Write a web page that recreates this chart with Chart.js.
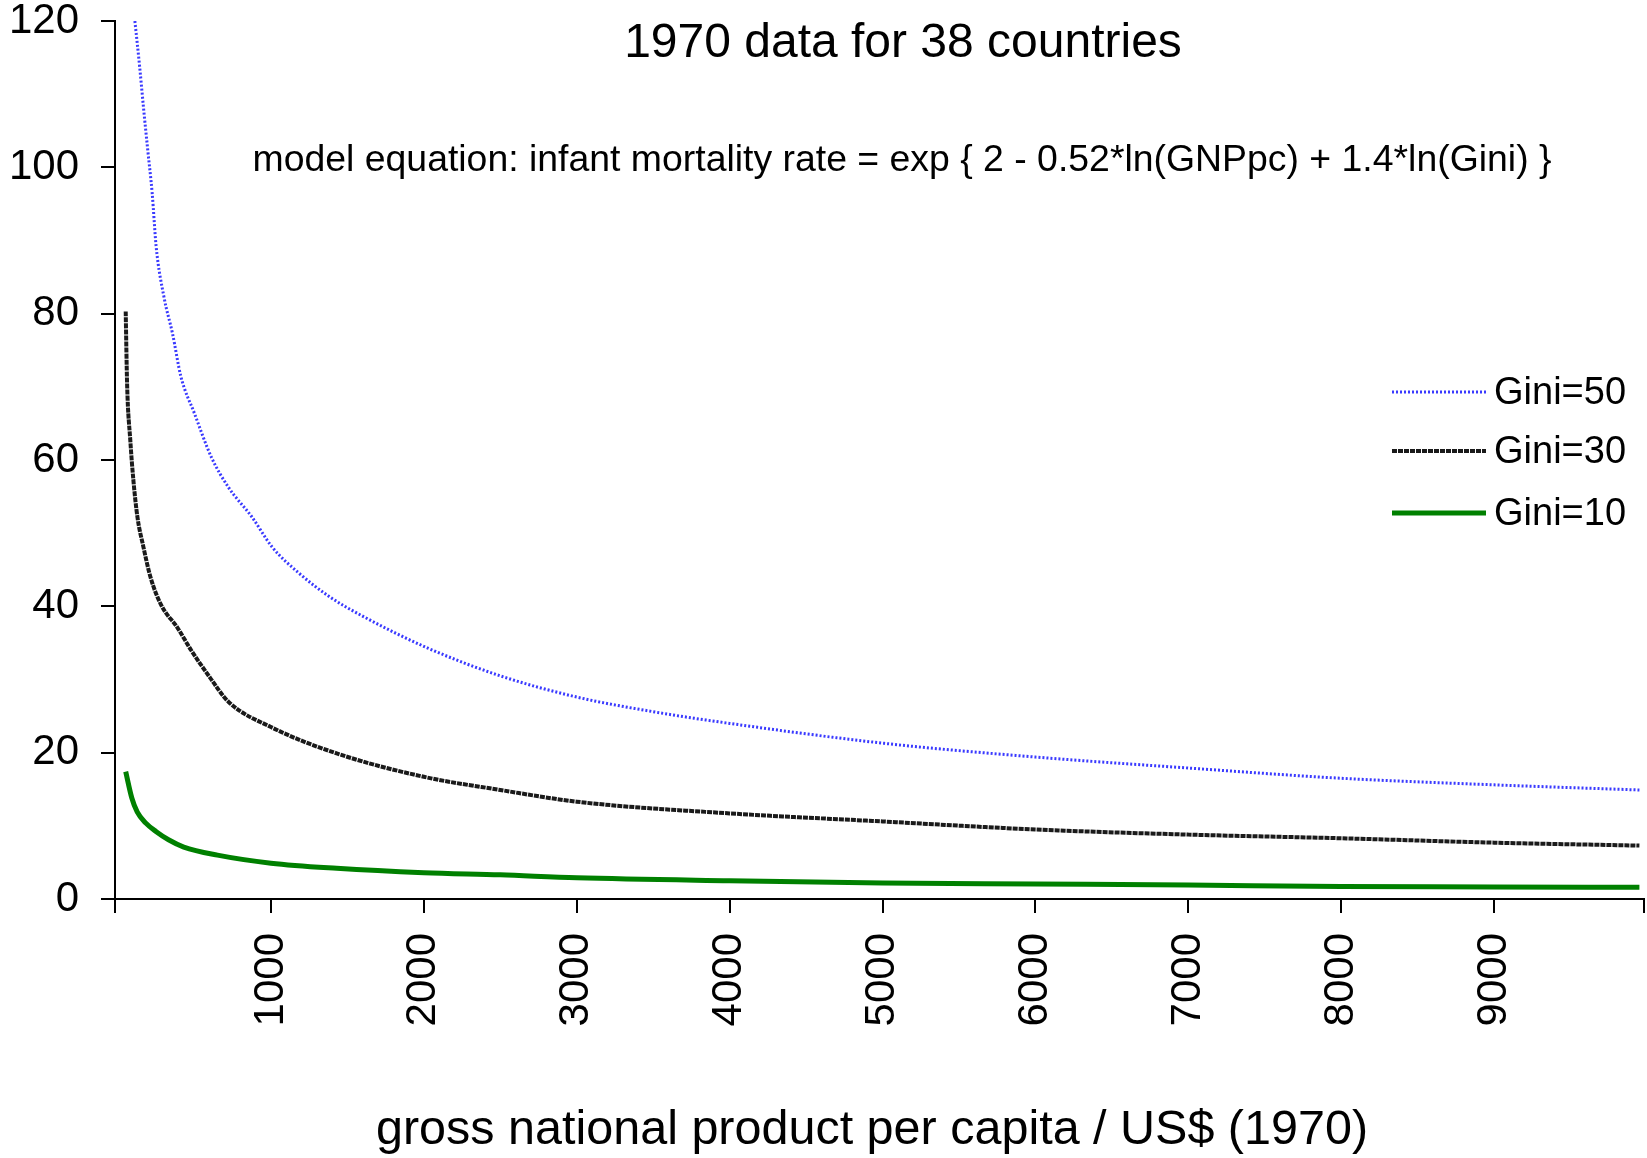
<!doctype html>
<html lang="en">
<head>
  <meta charset="utf-8">
  <title>Infant mortality model</title>
  <script src="https://cdn.jsdelivr.net/npm/chart.js"></script>
  <style>
    html, body { margin: 0; padding: 0; background: #fff; }
    #wrap { width: 1647px; height: 1158px; position: relative; }
  </style>
</head>
<body>
  <div id="wrap"><canvas id="canvas_chart"></canvas></div>

  <script type="text/javascript">

    // values: GNP per capita (US$) and infant mortality rate
    const gini50_x = [110, 141, 168, 194, 223, 249, 300, 356, 411, 499, 610, 721, 876, 1008, 1185, 1384, 1605, 2025, 2500, 3000, 3500, 4000, 5000, 6000, 7000, 8000, 9000, 9950];
    const gini50_y = [120, 113.8, 107.8, 102.4, 96.5, 89.2, 82.3, 77.3, 71.4, 66.4, 60.4, 56.3, 52.2, 48.1, 44.5, 41.3, 38.6, 34.3, 30.5, 27.6, 25.6, 24.0, 21.3, 19.4, 17.9, 16.5, 15.6, 14.9];

    const gini30_x = [50, 59, 80, 100, 126, 166, 212, 279, 391, 478, 600, 720, 1000, 1430, 2000, 2500, 3000, 4000, 5000, 6000, 7000, 8000, 9000, 9950];
    const gini30_y = [80.3, 70.5, 62.7, 57.3, 52.3, 48.1, 44.0, 40.3, 37.0, 34.0, 30.3, 27.0, 23.5, 19.9, 16.7, 14.9, 13.3, 11.7, 10.6, 9.5, 8.8, 8.3, 7.7, 7.3];

    const gini10_x = [50, 90, 125, 180, 250, 330, 430, 650, 1000, 1430, 2000, 2500, 3000, 4000, 5000, 6000, 7000, 8000, 9000, 9950];
    const gini10_y = [17.4, 13.8, 11.9, 10.4, 9.2, 8.1, 7.1, 6.0, 4.9, 4.2, 3.6, 3.3, 2.9, 2.5, 2.2, 2.05, 1.9, 1.7, 1.65, 1.6];

    const x_tick_values = [1000, 2000, 3000, 4000, 5000, 6000, 7000, 8000, 9000];
    const series_names = ['Gini=50', 'Gini=30', 'Gini=10'];

    const title_text = '1970 data for 38 countries';
    const equation_text = 'model equation: infant mortality rate = exp { 2 - 0.52*ln(GNPpc) + 1.4*ln(Gini) }';
    const x_title_text = 'gross national product per capita / US$ (1970)';

    const font_family = '"Liberation Sans", Arial, sans-serif';

    const styles = [
      { color: '#3a3aff', width: 3, dash: [2, 2] },
      { color: '#1a1a1a', width: 4, dash: [5, 1] },
      { color: '#008000', width: 5, dash: [] }
    ];

    function to_points(xs, ys) {
      return xs.map((x, i) => ({ x: x, y: ys[i] }));
    }

    const all_series = [
      to_points(gini50_x, gini50_y),
      to_points(gini30_x, gini30_y),
      to_points(gini10_x, gini10_y)
    ];

    const x_min = -20, x_max = 9980;

    // title, equation, legend and axis title are placed by hand
    const text_plugin = {
      id: 'text_plugin',
      afterDraw(chart) {
        const ctx = chart.ctx;
        ctx.save();
        ctx.fillStyle = '#000';
        ctx.textBaseline = 'middle';
        ctx.textAlign = 'center';

        ctx.font = '48px ' + font_family;
        ctx.fillText(title_text, 903, 44);

        ctx.font = '37.4px ' + font_family;
        ctx.fillText(equation_text, 902, 161);

        ctx.font = '48.5px ' + font_family;
        ctx.fillText(x_title_text, 872, 1131);

        const legend_y = [392, 451, 513];
        ctx.textAlign = 'left';
        ctx.font = '38px ' + font_family;
        series_names.forEach((name, i) => {
          ctx.save();
          ctx.strokeStyle = styles[i].color;
          ctx.lineWidth = styles[i].width;
          ctx.setLineDash(styles[i].dash);
          ctx.beginPath();
          ctx.moveTo(1392, legend_y[i]);
          ctx.lineTo(1486, legend_y[i]);
          ctx.stroke();
          ctx.restore();
          ctx.fillText(name, 1494, legend_y[i] + 2);
        });
        ctx.restore();
      }
    };

    const chart = new Chart(document.getElementById('canvas_chart'), {
      type: 'line',
      data: {
        datasets: all_series.map((pts, i) => ({
          label: series_names[i],
          data: pts,
          borderColor: styles[i].color,
          borderWidth: styles[i].width,
          borderDash: styles[i].dash,
          pointRadius: 0,
          fill: false,
          cubicInterpolationMode: 'monotone'
        }))
      },
      options: {
        responsive: true,
        maintainAspectRatio: false,
        animation: false,
        layout: { padding: { top: 21, right: 3, bottom: 0, left: 0 } },
        plugins: { legend: { display: false }, title: { display: false }, tooltip: { enabled: false } },
        scales: {
          x: {
            type: 'linear',
            min: x_min,
            max: x_max,
            afterBuildTicks: (scale) => {
              scale.ticks = [x_min].concat(x_tick_values, [x_max]).map(v => ({ value: v }));
            },
            afterFit: (scale) => {
              scale.height = 259;
              scale.paddingLeft = 0;
              scale.paddingRight = 0;
            },
            ticks: {
              minRotation: 90,
              maxRotation: 90,
              autoSkip: false,
              padding: 20,
              color: '#000',
              font: { family: font_family, size: 42 },
              callback: (v) => (x_tick_values.includes(v) ? String(v) : '')
            },
            grid: { drawOnChartArea: false, drawTicks: true, tickLength: 14, color: '#000', lineWidth: 2 },
            border: { display: true, color: '#000', width: 2 },
            title: { display: false }
          },
          y: {
            min: 0,
            max: 120,
            afterFit: (scale) => {
              scale.width = 115;
              scale.paddingTop = 0;
              scale.paddingBottom = 0;
            },
            ticks: {
              stepSize: 20,
              padding: 22,
              color: '#000',
              font: { family: font_family, size: 42 }
            },
            grid: { drawOnChartArea: false, drawTicks: true, tickLength: 14, color: '#000', lineWidth: 2 },
            border: { display: true, color: '#000', width: 2 }
          }
        }
      },
      plugins: [text_plugin]
    });

  </script>
</body>
</html>
